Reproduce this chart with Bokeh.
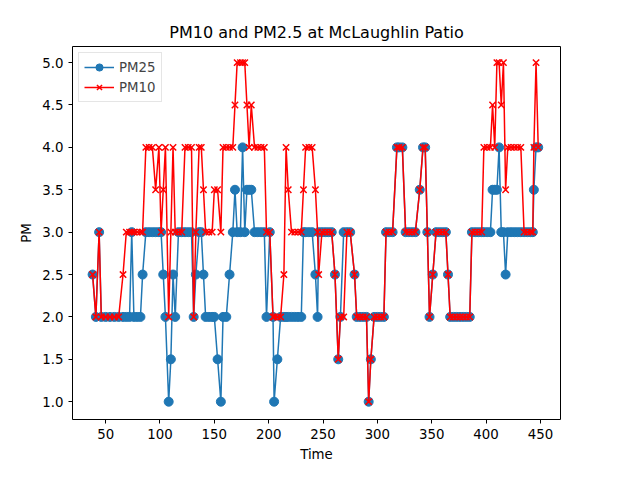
from bokeh.plotting import figure
from bokeh.embed import file_html
from bokeh.resources import INLINE
from bokeh.models import Range1d, Legend, LegendItem, FixedTicker, NumeralTickFormatter

rows = """38 2.5 2.5
41 2 2
44 3 3
46 2 2
50 2 2
54 2 2
58 2 2
62 2 2
66 2 2.5
69 2 3
72 2 3
74 3 3
76 2 3
79 2 3
82 2 3
84 2.5 3
87 3 4
90 3 4
93 3 4
96 3 3.5
99 3 4
101 3 3
103 2.5 3.5
105 2 4
108 1 2
110 1.5 3
112 2.5 4
114 2 3
117 3 3
120 3 3
123 3 4
126 3 4
129 3 4
131 2 2
133 2.5 3
136 3 4
138 3 4
140 2.5 3.5
142 2 3
145 2 3
148 2 3
150 2 3.5
153 1.5 3.5
156 1 3
158 2 4
161 2 4
164 2.5 4
167 3 4
169 3.5 4.5
171 3 5
174 3 5
176 4 5
178 3 5
180 3.5 4.5
182 3.5 4
184 3.5 4.5
187 3 4
190 3 4
193 3 4
196 3 4
198 2 3
201 3 3
204 2 2
205 1 2
208 1.5 2
211 2 2
214 2 2.5
216 2 4
218 2 3.5
221 2 3
224 2 3
227 2 3
230 2 3
232 3 3.5
234 3 4
237 3 4
240 3 4
243 2.5 3.5
245 2 3
246 3 2.5
249 3 3
252 3 3
255 3 3
258 3 3
261 2.5 2.5
264 1.5 1.5
266 2 2
269 3 2
272 3 3
275 3 3
279 2.5 2.5
281 2 2
284 2 2
287 2 2
290 2 2
292 1 1
294 1.5 1.5
297 2 2
300 2 2
303 2 2
306 2 2
308 3 3
311 3 3
314 3 3
318 4 4
320 4 4
323 4 4
326 3 3
329 3 3
332 3 3
335 3 3
339 3.5 3.5
342 4 4
344 4 4
346 3 3
348 2 2
351 2.5 2.5
354 3 3
357 3 3
360 3 3
363 3 3
365 2.5 2.5
367 2 2
370 2 2
373 2 2
376 2 2
379 2 2
382 2 2
385 2 2
387 3 3
390 3 3
393 3 3
396 3 3
398 3 4
401 3 4
404 3 4
406 3.5 4.5
408 3.5 4
410 3.5 5
412 4 5
414 3 4.5
416 3 5
418 2.5 3.5
420 3 4
423 3 4
426 3 4
429 3 4
432 3 4
435 3 3
438 3 3
441 3 3
443 3 3
444 3.5 4
446 4 5
448 4 4"""
time = [float(r.split()[0]) for r in rows.splitlines()]
pm25 = [float(r.split()[1]) for r in rows.splitlines()]
pm10 = [float(r.split()[2]) for r in rows.splitlines()]

p = figure(width=624, height=464, output_backend="svg", toolbar_location=None,
           title="PM10 and PM2.5 at McLaughlin Patio",
           x_range=Range1d(19.5, 468.5), y_range=Range1d(0.79, 5.19),
           min_border_left=72, min_border_right=64, min_border_top=46, min_border_bottom=34)
p.title.align = "center"
p.title.text_font = "DejaVu Sans"
p.title.text_font_size = "12pt"
p.title.text_font_style = "normal"
p.title.text_color = "black"
p.grid.visible = False
p.outline_line_color = "black"
for ax in (p.xaxis[0], p.yaxis[0]):
    ax.major_label_text_font = "DejaVu Sans"
    ax.major_label_text_font_size = "10pt"
    ax.major_label_text_color = "black"
    ax.axis_label_text_font = "DejaVu Sans"
    ax.axis_label_text_font_size = "10pt"
    ax.axis_label_text_font_style = "normal"
    ax.axis_label_text_color = "black"
    ax.minor_tick_line_color = None
    ax.major_tick_out = 4
    ax.major_tick_in = 0
    ax.major_tick_line_color = "black"
    ax.axis_line_color = None
p.xaxis.axis_label = "Time"
p.yaxis.axis_label = "PM"
p.xaxis.ticker = FixedTicker(ticks=[50, 100, 150, 200, 250, 300, 350, 400, 450])
p.yaxis.ticker = FixedTicker(ticks=[1, 1.5, 2, 2.5, 3, 3.5, 4, 4.5, 5])
p.yaxis.formatter = NumeralTickFormatter(format="0.0")

l1 = p.line(time, pm25, color="#1f77b4", line_width=1.5)
c1 = p.scatter(time, pm25, color="#1f77b4", size=9)
l2 = p.line(time, pm10, color="red", line_width=1.5)
c2 = p.scatter(time, pm10, marker="x", line_color="red", size=9, line_width=1.5)
leg = Legend(items=[LegendItem(label="PM25", renderers=[l1, c1]),
                    LegendItem(label="PM10", renderers=[l2, c2])],
             location="top_left", label_text_font="DejaVu Sans", label_text_font_size="10pt",
             border_line_color="#cccccc", spacing=2, padding=5, margin=6,
             glyph_height=18, glyph_width=30, label_height=18)
p.add_layout(leg)

open("out.html", "w").write(file_html(p, INLINE))
